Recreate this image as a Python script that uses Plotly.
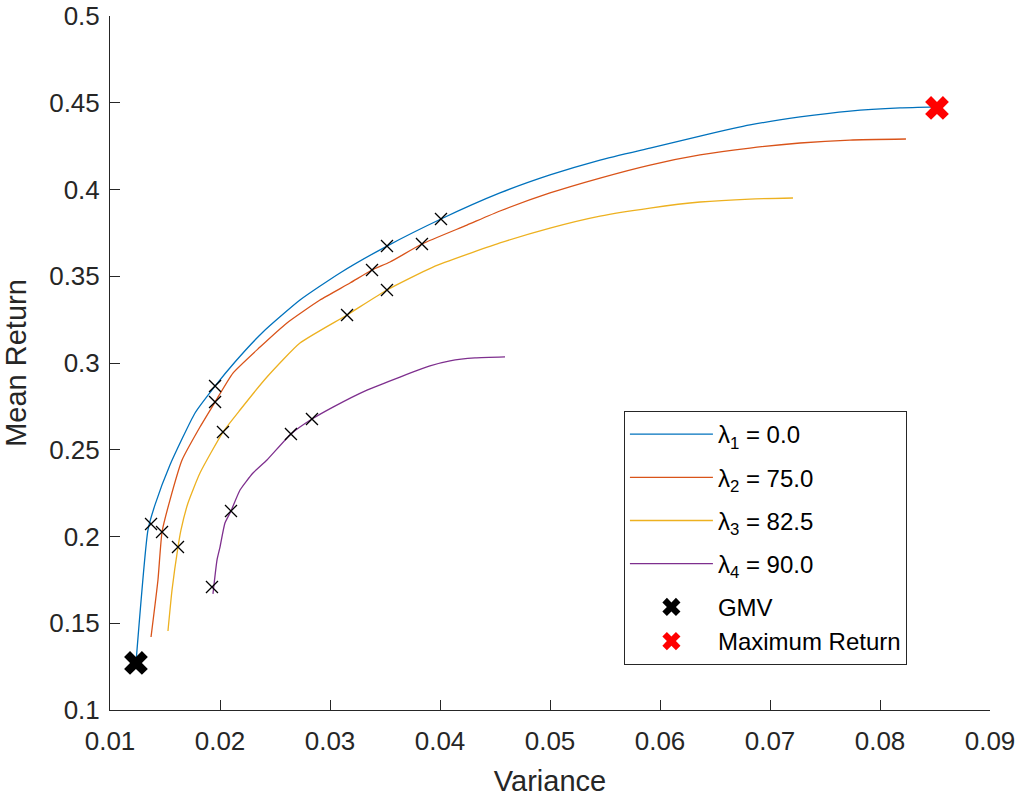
import plotly.graph_objects as go

# ---- data ----
blue_x = [0.01236, 0.01345, 0.01409, 0.01545, 0.01773, 0.01955, 0.02136, 0.02391, 0.02727, 0.03091,
          0.03518, 0.04009, 0.04545, 0.05000, 0.05455, 0.05909, 0.06364, 0.06818, 0.07273, 0.07727,
          0.08182, 0.08518]
blue_y = [0.1271, 0.2037, 0.2182, 0.2412, 0.2712, 0.2867, 0.3006, 0.3179, 0.3363, 0.3519,
          0.3674, 0.3830, 0.3980, 0.4084, 0.4170, 0.4239, 0.4308, 0.4372, 0.4418, 0.4452,
          0.4470, 0.4476]

orange_x = [0.01373, 0.01436, 0.01473, 0.01545, 0.01655, 0.01818, 0.01955, 0.02118, 0.02364, 0.02609,
            0.02909, 0.03182, 0.03382, 0.03545, 0.03836, 0.04245, 0.04545, 0.05000, 0.05455, 0.05909,
            0.06364, 0.06818, 0.07273, 0.07727, 0.08236]
orange_y = [0.1421, 0.1749, 0.2026, 0.2210, 0.2441, 0.2631, 0.2775, 0.2942, 0.3092, 0.3231,
            0.3363, 0.3461, 0.3536, 0.3582, 0.3686, 0.3795, 0.3876, 0.3980, 0.4066, 0.4141,
            0.4199, 0.4239, 0.4268, 0.4285, 0.4291]

yellow_x = [0.01527, 0.01564, 0.01618, 0.01645, 0.01709, 0.01818, 0.02027, 0.02182, 0.02427, 0.02727,
            0.03155, 0.03518, 0.03936, 0.04545, 0.05000, 0.05455, 0.05909, 0.06364, 0.06818, 0.07209]
yellow_y = [0.1455, 0.1692, 0.1939, 0.2037, 0.2193, 0.2366, 0.2602, 0.2729, 0.2919, 0.3115,
            0.3277, 0.3421, 0.3553, 0.3692, 0.3778, 0.3847, 0.3893, 0.3928, 0.3945, 0.3951]

purple_x = [0.01936, 0.01973, 0.02000, 0.02045, 0.02100, 0.02182, 0.02300, 0.02427, 0.02645, 0.02836,
            0.03027, 0.03336, 0.03636, 0.03909, 0.04091, 0.04318, 0.04591]
purple_y = [0.1669, 0.1865, 0.1939, 0.2078, 0.2147, 0.2268, 0.2366, 0.2441, 0.2591, 0.2677,
            0.2746, 0.2844, 0.2919, 0.2983, 0.3012, 0.3029, 0.3035]

series_names = ["λ<sub>1</sub> = 0.0", "λ<sub>2</sub> = 75.0", "λ<sub>3</sub> = 82.5", "λ<sub>4</sub> = 90.0"]

mark_x = [0.01373, 0.01473, 0.01618, 0.01927, 0.01955, 0.01955, 0.02027, 0.02100,
          0.02645, 0.02836, 0.03155, 0.03382, 0.03518, 0.03518, 0.03836, 0.04009]
mark_y = [0.2072, 0.2026, 0.1939, 0.1709, 0.2867, 0.2775, 0.2602, 0.2147,
          0.2591, 0.2677, 0.3277, 0.3536, 0.3421, 0.3674, 0.3686, 0.3830]

gmv_x = [0.01236]
gmv_y = [0.1271]
maxret_x = [0.08518]
maxret_y = [0.4470]

x_ticks = [0.01, 0.02, 0.03, 0.04, 0.05, 0.06, 0.07, 0.08, 0.09]
x_ticktext = ["0.01", "0.02", "0.03", "0.04", "0.05", "0.06", "0.07", "0.08", "0.09"]
y_ticks = [0.1, 0.15, 0.2, 0.25, 0.3, 0.35, 0.4, 0.45, 0.5]
y_ticktext = ["0.1", "0.15", "0.2", "0.25", "0.3", "0.35", "0.4", "0.45", "0.5"]

colors = ["#0072BD", "#D95319", "#EDB120", "#7E2F8E"]
FONT = "Liberation Sans"

fig = go.Figure()
for i, (xs, ys, name, c) in enumerate(zip([blue_x, orange_x, yellow_x, purple_x],
                                          [blue_y, orange_y, yellow_y, purple_y],
                                          series_names, colors)):
    fig.add_trace(go.Scatter(x=xs, y=ys, mode="lines", name=name, legendgroup=f"g{i}",
                             line=dict(color=c, width=1.3, shape="spline", smoothing=0.5)))

fig.add_trace(go.Scatter(x=mark_x, y=mark_y, mode="markers", showlegend=False,
                         marker=dict(symbol="x-thin", size=12, color="black",
                                     line=dict(color="black", width=1.3))))
fig.add_trace(go.Scatter(x=gmv_x, y=gmv_y, mode="markers", name="GMV", legendgroup="pts",
                         marker=dict(symbol="x", size=21, color="black", line=dict(width=0))))
fig.add_trace(go.Scatter(x=maxret_x, y=maxret_y, mode="markers", name="Maximum Return",
                         legendgroup="pts",
                         marker=dict(symbol="x", size=21, color="#FF0000", line=dict(width=0))))

axis_common = dict(showgrid=False, zeroline=False, showline=True, linecolor="#262626",
                   linewidth=1, ticks="inside", ticklen=10, tickcolor="#262626", mirror=False,
                   automargin=False,
                   tickfont=dict(family=FONT, size=26, color="#262626"))

fig.update_xaxes(range=[0.01, 0.09], tickvals=x_ticks, ticktext=x_ticktext, ticklabelstandoff=8,
                 title=dict(text="Variance", font=dict(family=FONT, size=29, color="#262626")),
                 **axis_common)
fig.update_yaxes(range=[0.1, 0.5], tickvals=y_ticks, ticktext=y_ticktext, ticklabelstandoff=4,
                 title=dict(text="Mean Return", font=dict(family=FONT, size=29, color="#262626")),
                 **axis_common)

fig.update_layout(
    width=1017, height=799,
    margin=dict(l=110, r=27, t=16, b=89),
    paper_bgcolor="white", plot_bgcolor="white",
    showlegend=True,
    legend=dict(x=0.584, y=0.4308, xanchor="left", yanchor="top",
                bgcolor="white", bordercolor="#262626", borderwidth=1,
                font=dict(family=FONT, size=24, color="black"),
                itemwidth=83, tracegroupgap=9, groupclick="toggleitem"),
)

fig.write_html("out.html")
